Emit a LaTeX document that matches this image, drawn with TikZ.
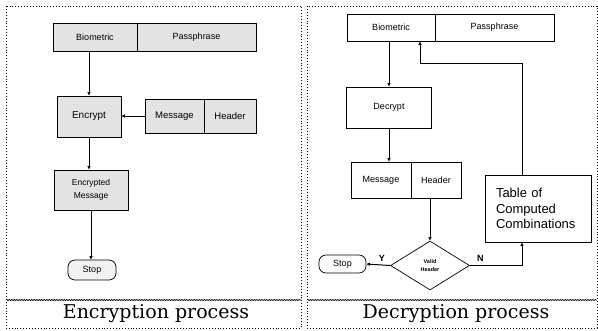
\documentclass[tikz,border=0pt]{standalone}
\usepackage{fontspec}
\setmainfont{DejaVu Serif}
\setsansfont{Liberation Sans}
\usetikzlibrary{shapes.geometric,arrows.meta,decorations.pathmorphing}
\begin{document}
\begin{tikzpicture}[x=1pt,y=-1pt,
  box/.style={draw=black,line width=0.7pt,inner sep=0pt,font=\sffamily\fontsize{9}{10}\selectfont},
  shaded/.style={box,fill=gray!22},
  plain/.style={box,fill=white},
  stopbox/.style={box,rounded corners=7pt,fill=white},
  flow/.style={line width=1pt,-{Latex[length=3.5pt,width=3.5pt]}},
  panel/.style={dotted,line width=0.9pt},
  caption/.style={font=\fontsize{19}{21}\selectfont}]
\useasboundingbox (0,0) rectangle (598,330);

% panel frames
\draw[panel] (6,6) rectangle (301,328);
\draw[panel] (307,6) rectangle (597,328);
\draw[line width=0.6pt,decorate,decoration={snake,amplitude=0.6pt,segment length=2.5pt}] (6,300) -- (301,300);
\draw[line width=0.6pt,decorate,decoration={snake,amplitude=0.6pt,segment length=2.5pt}] (307,300) -- (597,300);

% ---- encryption ----
\node[shaded,minimum width=84pt,minimum height=28pt] (lbio) at (95,37) {Biometric};
\node[shaded,minimum width=119pt,minimum height=28pt] (lpass) at (196.5,37) {Passphrase};
\node[shaded,minimum width=64pt,minimum height=41pt,font=\sffamily\fontsize{10}{11}\selectfont] (lenc) at (89,116.5) {Encrypt};
\node[shaded,minimum width=59pt,minimum height=34pt,font=\sffamily\fontsize{9.5}{10}\selectfont] (lmsg) at (174.5,116) {Message};
\node[shaded,minimum width=52pt,minimum height=34pt,font=\sffamily\fontsize{9.5}{10}\selectfont] (lhdr) at (230,116) {Header};
\node[shaded,minimum width=74pt,minimum height=40pt,align=center,font=\sffamily\fontsize{8.5}{13}\selectfont] (lem) at (91,190) {Encrypted\\Message};
\node[stopbox,fill=gray!10,minimum width=48pt,minimum height=20pt] (lstop) at (92,270) {Stop};
\node[caption] (lcap) at (156,314) {Encryption process};

\draw[flow] (lenc.north |- lbio.south) -- (lenc.north);
\draw[flow] (lmsg.west) -- (lenc.east |- lmsg.west);
\draw[flow] (lenc.south) -- (lenc.south |- lem.north);
\draw[flow] (lem.south) -- (lem.south |- lstop.north);

% ---- decryption ----
\node[plain,minimum width=88pt,minimum height=27pt] (rbio) at (391,27.5) {Biometric};
\node[plain,minimum width=119pt,minimum height=27pt] (rpass) at (494.5,27.5) {Passphrase};
\node[plain,minimum width=85pt,minimum height=41pt] (rdec) at (389,107.5) {Decrypt};
\node[plain,minimum width=60pt,minimum height=36pt] (rmsg) at (381,180) {Message};
\node[plain,minimum width=50pt,minimum height=36pt] (rhdr) at (436,180) {Header};
\node[plain,diamond,aspect=1.6,minimum width=79pt,minimum height=49pt,inner sep=0pt,align=center,font=\sffamily\bfseries\fontsize{5.5}{8}\selectfont] (valid) at (430,265.5) {Valid\\Header};
\node[stopbox,minimum width=47pt,minimum height=18pt] (rstop) at (342.5,264) {Stop};
\node[plain,minimum height=67pt,text width=84pt,inner xsep=11pt,align=left,font=\sffamily\fontsize{13}{15.5}\selectfont] (tab) at (538,208.5) {Table of\\Computed\\Combinations};
\node[caption] (rcap) at (456,314) {Decryption process};
\coordinate (up) at (522,63);
\coordinate (left) at (420,63);

\draw[flow] (rdec.north |- rbio.south) -- (rdec.north);
\draw[flow] (rdec.south) -- (rdec.south |- rmsg.north);
\draw[flow] (rhdr.south -| valid.north) -- (valid.north);
\draw[flow] (valid.west) -- node[above,pos=0.35,font=\sffamily\bfseries\fontsize{9}{10}\selectfont] (ylab) {Y} (rstop.east);
\draw[flow] (valid.east) -- node[above,pos=0.2,font=\sffamily\bfseries\fontsize{9}{10}\selectfont] (nlab) {N} (valid.east -| up) -- (tab.south -| up);
\draw[flow] (tab.north -| up) -- (up) -- (left) -- (left |- rbio.south);
\end{tikzpicture}
\end{document}
